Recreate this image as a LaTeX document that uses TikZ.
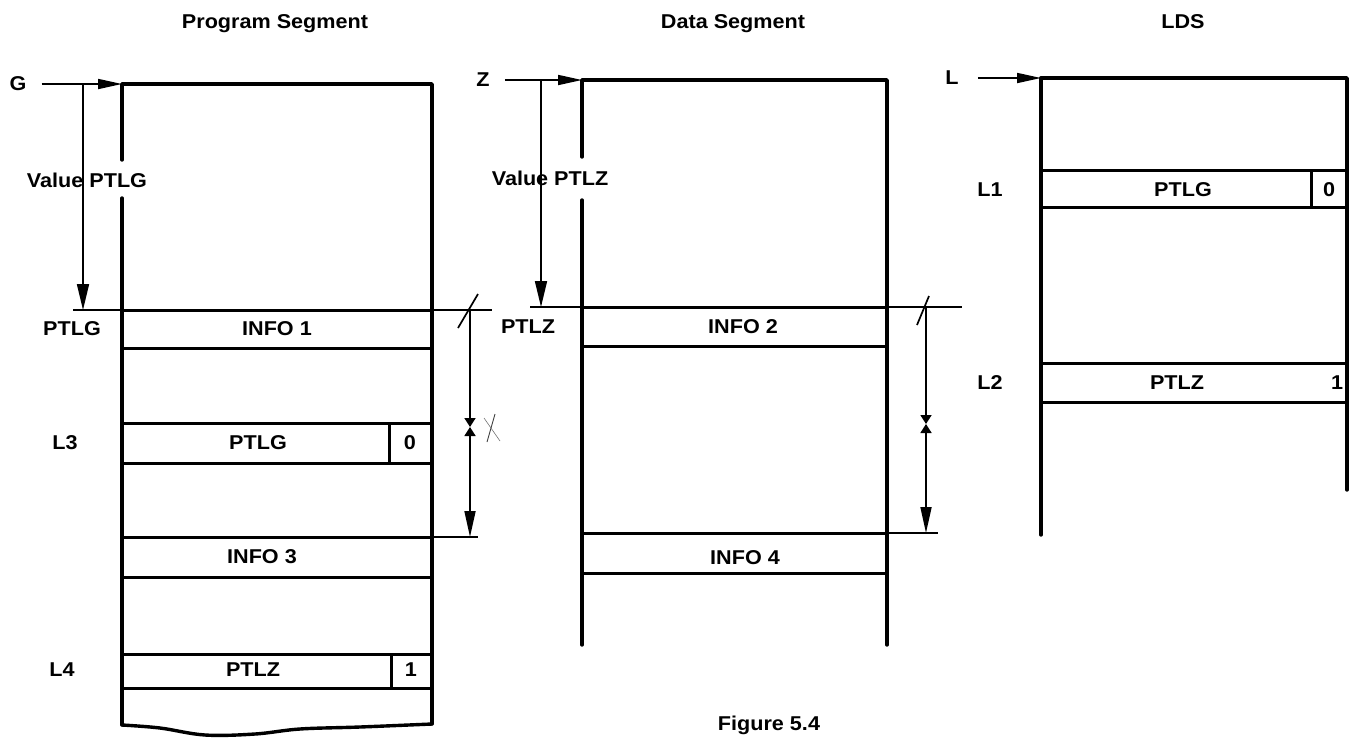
\documentclass[tikz,border=0pt]{standalone}
\usepackage{fontspec}
\setmainfont{Liberation Sans}[FakeStretch=1.08]
\usetikzlibrary{arrows.meta}
\begin{document}
\begin{tikzpicture}[x=1pt,y=-1pt,
  every node/.style={font=\bfseries\fontsize{20}{24}\selectfont, inner sep=1pt},
  wall/.style={line width=3.4pt, line cap=round, line join=round},
  rowline/.style={line width=3pt},
  thinline/.style={line width=1.7pt},
  ptr/.style={thinline, -{Triangle[length=24pt,width=10pt]}},
  vptr/.style={thinline, -{Triangle[length=26pt,width=12pt]}},
  hgdown/.style={thinline, -{Triangle[length=9pt,width=11pt]}},
  hgboth/.style={thinline, {Triangle[length=9pt,width=11pt]}-{Triangle[length=26pt,width=11pt]}}
]
\useasboundingbox (0,0) rectangle (1355,737);

% ---------- titles ----------
\node (tP) at (275,24) {Program Segment};
\node (tD) at (733,24) {Data Segment};
\node (tL) at (1183,22) {LDS};
\node (fig) at (769,725) {Figure 5.4};

% ================= Program Segment =================
\coordinate (PTl) at (122,84);
\coordinate (PTr) at (432,84);
\draw[wall] (122,160) -- (PTl) -- (PTr) -- (432,724);
\draw[wall] (122,198) -- (122,725);
\draw[wall] plot[smooth, tension=0.6] coordinates {(122,725) (160,728) (205,735) (255,734) (300,729) (360,727) (432,724)};
% rows
\draw[thinline] (73,310) -- (492,310);
\draw[rowline] (122,310) -- (432,310);
\draw[rowline] (122,348) -- (432,348);
\draw[rowline] (122,423) -- (432,423);
\draw[rowline] (122,463) -- (432,463);
\draw[rowline] (389,423) -- (389,463);
\draw[thinline] (432,537) -- (478,537);
\draw[rowline] (122,537) -- (432,537);
\draw[rowline] (122,577) -- (432,577);
\draw[rowline] (122,654) -- (432,654);
\draw[rowline] (122,688) -- (432,688);
\draw[rowline] (391,654) -- (391,688);
% texts
\node (info1) at (277,329) {INFO 1};
\node (l3ptlg) at (258,443) {PTLG};
\node (l3bit) at (410,443) {0};
\node (info3) at (262,557) {INFO 3};
\node (l4ptlz) at (253,670) {PTLZ};
\node (l4bit) at (411,670) {1};
\node (labPTLG) at (72,329) {PTLG};
\node (labL3) at (65,443) {L3};
\node (labL4) at (62,670) {L4};
% pointer G
\node (G) at (18,84) {G};
\draw[ptr, shorten <=14pt] (G.east |- PTl) -- (PTl);
\node (valG) at (87,180) {Value PTLG};
\coordinate (Gv) at (83,84);
\coordinate (Gb) at (83,310);
\draw[vptr] (Gv) -- (Gb);
% dimension
\draw[thinline] (458,328) -- (478,294);
\coordinate (Pd1) at (470,310);
\coordinate (Pd2) at (470,427);
\coordinate (Pd3) at (470,537);
\draw[hgdown] (Pd1) -- (Pd2);
\draw[hgboth] (Pd2) -- (Pd3);
% stray pencil mark
\draw[line width=0.9pt, black!75] (487,442) -- (495,414);
\draw[line width=0.6pt, black!55] (484,418) -- (500,441);

% ================= Data Segment =================
\coordinate (DTl) at (582,80);
\coordinate (DTr) at (887,80);
\draw[wall] (582,157) -- (DTl) -- (DTr) -- (887,645);
\draw[wall] (582,200) -- (582,645);
\draw[thinline] (530,307) -- (962,307);
\draw[rowline] (582,307) -- (887,307);
\draw[rowline] (582,346) -- (887,346);
\draw[thinline] (887,533) -- (938,533);
\draw[rowline] (582,533) -- (887,533);
\draw[rowline] (582,573) -- (887,573);
\node (info2) at (743,327) {INFO 2};
\node (info4) at (745,558) {INFO 4};
\node (labPTLZ) at (528,327) {PTLZ};
\node (Z) at (483,80) {Z};
\draw[ptr, shorten <=14pt] (Z.east |- DTl) -- (DTl);
\node (valZ) at (550,178) {Value PTLZ};
\coordinate (Zv) at (541,80);
\coordinate (Zb) at (541,307);
\draw[vptr] (Zv) -- (Zb);
\draw[thinline] (917,325) -- (929,296);
\coordinate (Dd1) at (926,307);
\coordinate (Dd2) at (926,424);
\coordinate (Dd3) at (926,533);
\draw[hgdown] (Dd1) -- (Dd2);
\draw[hgboth] (Dd2) -- (Dd3);

% ================= LDS =================
\coordinate (LTl) at (1041,78);
\coordinate (LTr) at (1347,78);
\draw[wall] (1041,535) -- (LTl) -- (LTr) -- (1347,490);
\draw[rowline] (1041,170) -- (1347,170);
\draw[rowline] (1041,207) -- (1347,207);
\draw[rowline] (1311,170) -- (1311,207);
\draw[rowline] (1041,363) -- (1347,363);
\draw[rowline] (1041,402) -- (1347,402);
\node (l1ptlg) at (1183,190) {PTLG};
\node (l1bit) at (1329,190) {0};
\node (l2ptlz) at (1177,383) {PTLZ};
\node (l2bit) at (1337,383) {1};
\node (labL1) at (990,190) {L1};
\node (labL2) at (990,383) {L2};
\node (L) at (952,78) {L};
\draw[ptr, shorten <=18pt] (L.east |- LTl) -- (LTl);
\end{tikzpicture}
\end{document}
